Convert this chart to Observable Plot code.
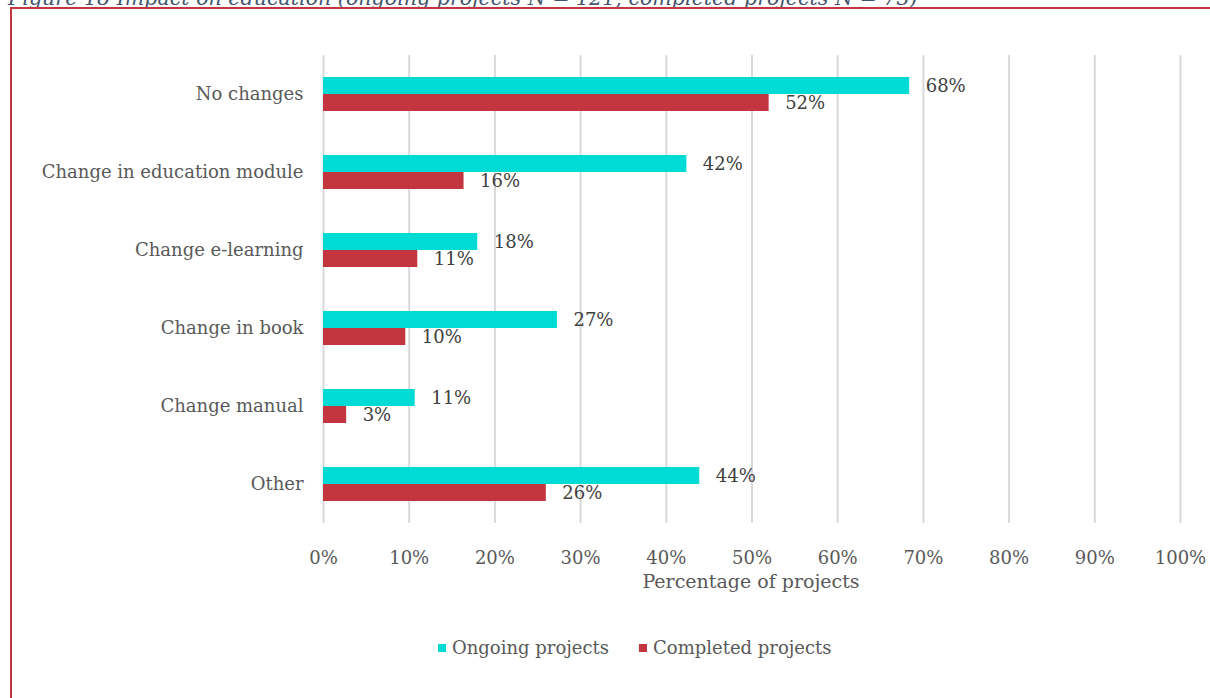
<!DOCTYPE html>
<html>
<head>
<meta charset="utf-8">
<script src="https://cdn.jsdelivr.net/npm/d3@7"></script>
<script src="https://cdn.jsdelivr.net/npm/@observablehq/plot@0.6"></script>
<style>
  html, body { margin: 0; padding: 0; background: #fff; width: 1210px; height: 698px; overflow: hidden; position: relative; }
  #title { position: absolute; left: 8px; top: -12px; font-family: "DejaVu Serif", serif; font-style: italic; font-size: 20.6px; line-height: 21px; color: #44546a; white-space: nowrap; }
  #frame { position: absolute; left: 10px; top: 7px; width: 1240px; height: 740px; border: 2px solid #c4363f; box-sizing: border-box; }
  #chart { position: absolute; left: 0; top: 0; }
  #xlabel { position: absolute; left: 0; width: 1502px; top: 570px; text-align: center; font-family: "DejaVu Serif", serif; font-size: 19px; color: #595959; }
  #legend { position: absolute; left: 438px; top: 637px; display: flex; align-items: center; font-family: "DejaVu Serif", serif; font-size: 18px; color: #595959; }
  #legend .sw { width: 8px; height: 8px; display: inline-block; margin-right: 6px; }
  #legend .item { display: flex; align-items: center; margin-right: 30px; }
</style>
</head>
<body>
<div id="title">Figure 18 Impact on education (ongoing projects N = 121, completed projects N = 73)</div>
<div id="frame"></div>
<div id="chart"></div>
<div id="xlabel">Percentage of projects</div>
<div id="legend"></div>
<script>
const categories = ["No changes", "Change in education module", "Change e-learning", "Change in book", "Change manual", "Other"];
const series = ["Ongoing projects", "Completed projects"];
const ongoing = [68.4, 42.4, 18.0, 27.3, 10.7, 43.9];
const completed = [52.0, 16.4, 11.0, 9.6, 2.7, 26.0];
const xTicks = [0, 10, 20, 30, 40, 50, 60, 70, 80, 90, 100];
const colors = ["#00dcd5", "#c4363f"];

const rows = [];
categories.forEach((c, i) => {
  rows.push({category: c, series: series[0], value: ongoing[i]});
  rows.push({category: c, series: series[1], value: completed[i]});
});

const chart = Plot.plot({
  width: 1210,
  height: 600,
  marginLeft: 323,
  marginRight: 30,
  marginTop: 55,
  marginBottom: 77,
  style: {fontFamily: "DejaVu Serif", fontSize: "18px", color: "#595959", background: "transparent", overflow: "visible"},
  x: {domain: [0, 100], ticks: xTicks, tickFormat: d => d + "%", tickSize: 0, tickPadding: 28, label: null},
  fy: {domain: categories, padding: 0, label: null, tickSize: 0, tickPadding: 20, axis: "left"},
  y: {domain: series, paddingInner: 0, paddingOuter: 1.17, axis: null},
  color: {domain: series, range: colors},
  marks: [
    Plot.ruleX(xTicks, {x: d => d, stroke: "#d9d9d9", strokeWidth: 2}),
    Plot.barX(rows, {x: "value", y: "series", fy: "category", fill: "series"}),
    Plot.text(rows, {x: "value", y: "series", fy: "category", text: d => Math.round(d.value) + "%", dx: 16, textAnchor: "start", fill: "#404040", fontSize: 18})
  ]
});
document.getElementById("chart").appendChild(chart);

const legend = document.getElementById("legend");
series.forEach((s, i) => {
  const item = document.createElement("div");
  item.className = "item";
  const sw = document.createElement("span");
  sw.className = "sw";
  sw.style.background = colors[i];
  const t = document.createElement("span");
  t.textContent = s;
  item.appendChild(sw);
  item.appendChild(t);
  legend.appendChild(item);
});
</script>
</body>
</html>
